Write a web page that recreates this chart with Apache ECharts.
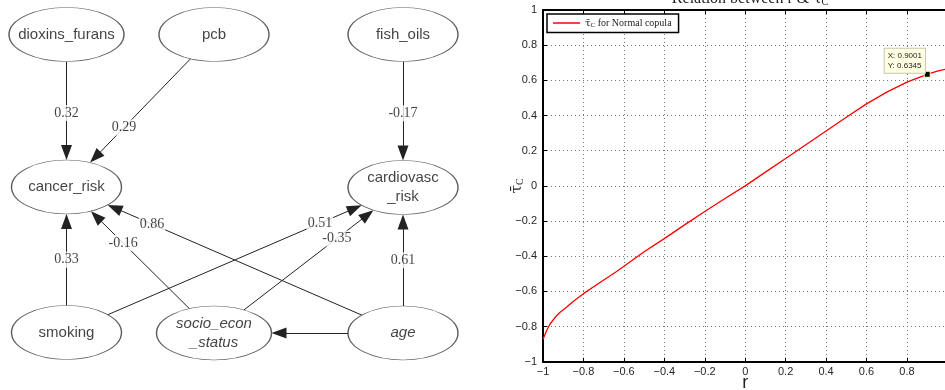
<!DOCTYPE html>
<html>
<head>
<meta charset="utf-8">
<script src="https://cdn.jsdelivr.net/npm/echarts@6/dist/echarts.min.js"></script>
<style>
  html, body { margin: 0; padding: 0; background: #fff; }
  #chart { width: 945px; height: 390px; }
</style>
</head>
<body>
<div id="chart"></div>
<script>
// ---- left: path diagram ----
const nodes = [
  { id: 'dioxins', label: 'dioxins_furans', x: 66.5, y: 34.5 },
  { id: 'pcb', label: 'pcb', x: 214, y: 34.5 },
  { id: 'fish', label: 'fish_oils', x: 403, y: 34.5 },
  { id: 'cancer', label: 'cancer_risk', x: 66.5, y: 187 },
  { id: 'cardio', label: 'cardiovasc\n_risk', x: 403, y: 187.5 },
  { id: 'smoking', label: 'smoking', x: 66.5, y: 332.5 },
  { id: 'socio', label: 'socio_econ\n_status', x: 214, y: 333, latent: true },
  { id: 'age', label: 'age', x: 403, y: 333, latent: true },
];
// source, target, path coefficient
const edges = [
  ['dioxins', 'cancer', 0.32],
  ['pcb', 'cancer', 0.29],
  ['fish', 'cardio', -0.17],
  ['smoking', 'cancer', 0.33],
  ['socio', 'cancer', -0.16],
  ['age', 'cancer', 0.86],
  ['smoking', 'cardio', 0.51],
  ['socio', 'cardio', -0.35],
  ['age', 'cardio', 0.61],
  ['age', 'socio', null],
];

// ---- right: tau_C vs r ----
const rValues = [-1, -0.983, -0.966, -0.941, -0.917, -0.884, -0.851, -0.8, -0.72, -0.636, -0.5, -0.4, -0.3, -0.2, -0.1,
  0, 0.1, 0.2, 0.3, 0.4, 0.5, 0.6, 0.7, 0.8, 0.9, 0.95, 1];
const tauValues = [-0.872, -0.825, -0.787, -0.749, -0.72, -0.69, -0.658, -0.613, -0.551, -0.487, -0.375, -0.3, -0.222, -0.146, -0.072,
  0, 0.078, 0.156, 0.234, 0.312, 0.39, 0.466, 0.533, 0.59, 0.6345, 0.652, 0.665];
const tipR = 0.9001;
const tipTau = 0.6345;

// layout helpers for the diagram
const wideNodes = ['dioxins', 'socio'];
const labelAt = [0.515, 0.61, 0.515, 0.5, 0.616, 0.746, 0.753, 0.65, 0.5, null];
const arrowW = 11, arrowL = 15;
const nodeH = 54;
const nodeW = (n) => (wideNodes.includes(n.id) ? 115 : 110);
const byId = Object.fromEntries(nodes.map((n) => [n.id, n]));

function boundary(n, to) {
  const dx = to.x - n.x, dy = to.y - n.y;
  const s = 1 / Math.sqrt((dx / (nodeW(n) / 2)) ** 2 + (dy / (nodeH / 2)) ** 2);
  return [n.x + s * dx, n.y + s * dy];
}

const edgeLines = edges.map(([s, t]) => {
  const a = byId[s], b = byId[t];
  const p0 = boundary(a, b);
  const tip = boundary(b, a);
  const len = Math.hypot(tip[0] - p0[0], tip[1] - p0[1]);
  const ux = (tip[0] - p0[0]) / len, uy = (tip[1] - p0[1]) / len;
  return { coords: [p0, [tip[0] - ux * arrowL / 2, tip[1] - uy * arrowL / 2]] };
});

const edgeLabels = edges
  .map(([s, t, w], i) => {
    if (w == null) return null;
    const a = byId[s], b = byId[t], k = labelAt[i];
    return [a.x + (b.x - a.x) * k, a.y + (b.y - a.y) * k, w];
  })
  .filter(Boolean);

const fmtTick = (v) => String(v).replace('-', '\u2212');
const tauLabel = 'τ\u0304';

const chart = echarts.init(document.getElementById('chart'));
chart.setOption({
  animation: false,
  title: {
    text: 'Relation between r & {t|' + tauLabel + '}{s|C}',
    left: 745,
    top: -14,
    textAlign: 'center',
    textStyle: {
      fontFamily: 'Liberation Serif', fontSize: 16, fontWeight: 'normal', color: '#222',
      rich: { t: { fontFamily: 'DejaVu Serif', fontSize: 15, color: '#222' }, s: { fontSize: 10, padding: [6, 0, 0, 0], color: '#222' } },
    },
  },
  legend: {
    left: 547,
    top: 14,
    padding: [4, 7, 4, 6],
    backgroundColor: '#fff',
    borderColor: '#000',
    borderWidth: 1.5,
    borderRadius: 0,
    itemWidth: 27,
    itemHeight: 1.5,
    itemGap: 4,
    icon: 'rect',
    data: ['tau'],
    formatter: () => '{t|' + tauLabel + '}{s|C} for Normal copula',
    textStyle: {
      fontFamily: 'Liberation Serif', fontSize: 10, color: '#222',
      rich: { t: { fontFamily: 'DejaVu Serif', fontSize: 10 }, s: { fontSize: 7, padding: [4, 0, 0, 0] } },
    },
  },
  grid: [
    { left: 0, top: 0, width: 945, height: 390, outerBoundsMode: 'none' },
    { left: 543, top: 10, width: 404.4, height: 351.7, outerBoundsMode: 'none' },
  ],
  xAxis: [
    { gridIndex: 0, type: 'value', min: 0, max: 945, show: false },
    {
      gridIndex: 1, type: 'value', min: -1, max: 1, interval: 0.2,
      name: 'r', nameLocation: 'middle', nameGap: 12, nameMoveOverlap: false,
      nameTextStyle: { fontFamily: 'Liberation Sans', fontSize: 18, color: '#222', verticalAlign: 'top' },
      axisLine: { onZero: false, lineStyle: { color: '#000', width: 2 } },
      axisTick: { inside: true, length: 4, lineStyle: { color: '#000' } },
      axisLabel: {
        margin: 5, fontFamily: 'Liberation Sans', fontSize: 11, color: '#262626',
        formatter: (v) => (v >= 0.999 ? '' : fmtTick(v)),
      },
      splitLine: { show: true, lineStyle: { color: '#777', type: [1, 3], width: 1 } },
    },
    {
      gridIndex: 1, type: 'value', min: -1, max: 1, interval: 0.2, position: 'top',
      axisLine: { onZero: false, lineStyle: { color: '#000', width: 2 } },
      axisTick: { inside: true, length: 4, lineStyle: { color: '#000' } },
      axisLabel: { show: false },
      splitLine: { show: false },
    },
  ],
  yAxis: [
    { gridIndex: 0, type: 'value', min: 0, max: 390, inverse: true, show: false },
    {
      gridIndex: 1, type: 'value', min: -1, max: 1, interval: 0.2,
      name: '{t|' + tauLabel + '}{s|C}', nameLocation: 'middle', nameGap: 18, nameRotate: 90,
      nameMoveOverlap: false,
      nameTextStyle: {
        color: '#222',
        rich: { t: { fontFamily: 'DejaVu Serif', fontSize: 15 }, s: { fontFamily: 'Liberation Serif', fontSize: 10, padding: [6, 0, 0, 0] } },
      },
      axisLine: { onZero: false, lineStyle: { color: '#000', width: 2 } },
      axisTick: { inside: true, length: 4, lineStyle: { color: '#000' } },
      axisLabel: { margin: 6, fontFamily: 'Liberation Sans', fontSize: 11, color: '#262626', formatter: fmtTick },
      splitLine: { show: true, lineStyle: { color: '#777', type: [1, 3], width: 1 } },
    },
  ],
  series: [
    {
      name: 'edges',
      type: 'lines',
      coordinateSystem: 'cartesian2d',
      xAxisIndex: 0,
      yAxisIndex: 0,
      symbol: ['none', 'triangle'],
      symbolSize: [0, [arrowW, arrowL]],
      lineStyle: { color: '#222', width: 1, opacity: 1, curveness: 0 },
      itemStyle: { color: '#000' },
      data: edgeLines,
      z: 2,
    },
    {
      name: 'nodes',
      type: 'scatter',
      xAxisIndex: 0,
      yAxisIndex: 0,
      symbol: 'circle',
      data: nodes.map((n) => ({
        value: [n.x, n.y],
        symbolSize: [nodeW(n), nodeH],
        label: { formatter: n.label, fontStyle: n.latent ? 'italic' : 'normal' },
      })),
      itemStyle: { color: '#fff', borderColor: '#333', borderWidth: 1 },
      label: {
        show: true, position: 'inside', fontFamily: 'Liberation Sans', fontSize: 15,
        color: '#111', lineHeight: 19,
      },
      emphasis: { disabled: true },
      z: 3,
    },
    {
      name: 'weights',
      type: 'scatter',
      xAxisIndex: 0,
      yAxisIndex: 0,
      symbolSize: 0,
      data: edgeLabels,
      label: {
        show: true, position: 'inside', formatter: (p) => String(p.value[2]),
        fontFamily: 'Liberation Serif', fontSize: 14, color: '#111',
        backgroundColor: '#fff', padding: [1, 1],
      },
      z: 5,
    },
    {
      name: 'tau',
      type: 'line',
      xAxisIndex: 1,
      yAxisIndex: 1,
      showSymbol: false,
      data: rValues.map((r, i) => [r, tauValues[i]]),
      color: '#ff0000',
      lineStyle: { color: '#ff0000', width: 1.3 },
      markPoint: {
        symbol: 'rect',
        symbolSize: 6,
        itemStyle: { color: '#000', borderColor: '#ffffcc', borderWidth: 1 },
        label: {
          show: true,
          position: [-39, -22],
          formatter: () => 'X: ' + tipR.toFixed(4) + '\nY: ' + tipTau.toFixed(4),
          fontFamily: 'Liberation Sans', fontSize: 8, lineHeight: 10, color: '#222',
          backgroundColor: '#ffffe1', borderColor: '#c8c8b4', borderWidth: 1, padding: [2, 3],
        },
        data: [{ coord: [tipR, tipTau] }],
      },
      z: 4,
    },
  ],
});
</script>
</body>
</html>
